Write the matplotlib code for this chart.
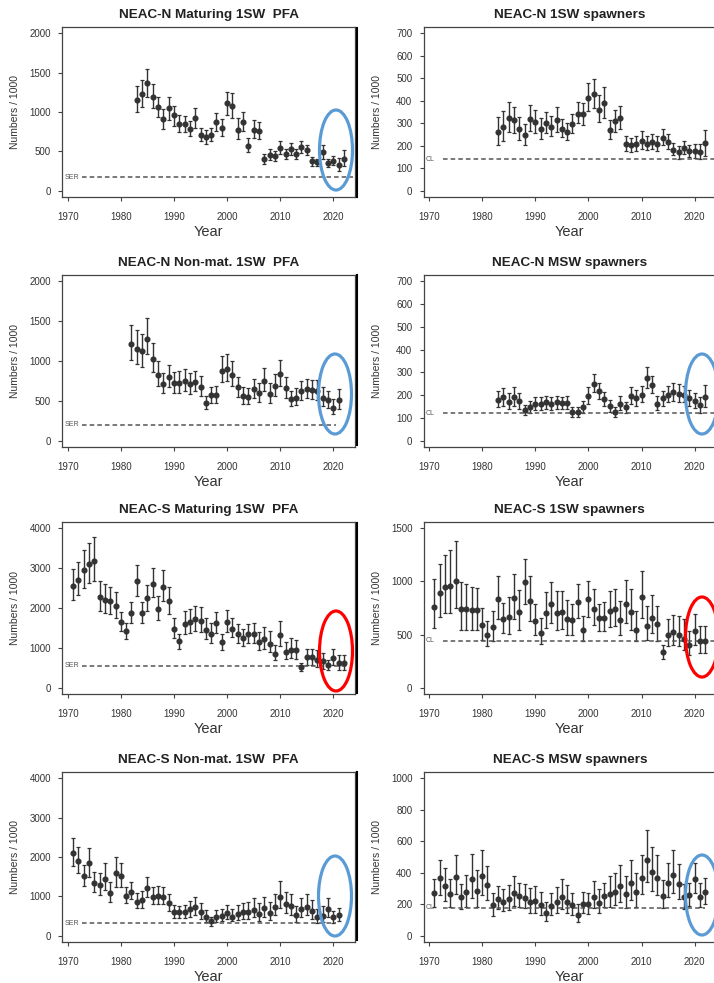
import matplotlib
matplotlib.use("Agg")
from matplotlib import pyplot as plt
from matplotlib.patches import Ellipse
from matplotlib.lines import Line2D
import matplotlib.transforms as mtrans
import numpy as np

plt.rcParams['font.family'] = ['Liberation Sans', 'DejaVu Sans']

# NEAC-N Maturing 1SW PFA
nm_years = np.arange(1983, 2023)
nm_val = [1154, 1226, 1366, 1188, 1061, 913, 1053, 960, 846, 846, 782, 922, 710, 681, 710, 871, 795, 1112, 1070, 774,
          871, 571, 774, 761, 402, 457, 435, 541, 465, 528, 465, 550, 520, 372, 359, 486, 351, 381, 321, 402]
nm_hi = [1332, 1408, 1543, 1353, 1196, 1040, 1196, 1070, 964, 955, 888, 1057, 803, 774, 803, 985, 913, 1260, 1239, 922,
         1006, 668, 892, 879, 469, 528, 499, 626, 533, 605, 533, 626, 583, 427, 402, 575, 402, 444, 414, 512]
nm_lo = [1006, 1061, 1188, 1049, 934, 782, 900, 824, 740, 740, 689, 803, 626, 596, 626, 761, 698, 964, 922, 655,
         753, 486, 668, 655, 342, 393, 372, 469, 402, 457, 402, 478, 448, 317, 309, 402, 300, 321, 254, 309]

# NEAC-N 1SW spawners
ns_years = np.arange(1983, 2023)
ns_val = [261, 284, 324, 314, 276, 246, 320, 305, 276, 302, 284, 314, 276, 261, 298, 343, 339, 413, 430, 361,
          388, 270, 309, 324, 206, 203, 206, 221, 209, 217, 209, 236, 218, 181, 172, 192, 177, 177, 172, 211]
ns_hi = [329, 354, 393, 371, 326, 295, 383, 358, 324, 349, 332, 373, 317, 302, 339, 393, 391, 479, 498, 427,
         461, 314, 361, 376, 243, 236, 243, 265, 243, 251, 243, 276, 251, 211, 199, 221, 203, 206, 206, 270]
ns_lo = [202, 221, 261, 258, 224, 202, 265, 258, 228, 258, 243, 261, 240, 225, 258, 299, 292, 354, 368, 305,
         324, 228, 261, 273, 177, 174, 177, 184, 181, 184, 177, 202, 187, 158, 143, 165, 152, 147, 140, 155]

# NEAC-N Non-mat. 1SW PFA
nn_years = np.arange(1982, 2022)
nn_val = [1209, 1154, 1125, 1281, 1027, 829, 710, 803, 719, 719, 753, 710, 740, 676, 478, 571, 575, 879, 901, 829,
          668, 562, 550, 647, 592, 753, 583, 689, 837, 655, 528, 541, 626, 647, 634, 626, 541, 512, 414, 507]
nn_hi = [1450, 1387, 1336, 1535, 1226, 998, 846, 956, 858, 871, 901, 850, 879, 808, 562, 676, 689, 1057, 1082, 1006,
         803, 676, 660, 774, 719, 913, 719, 837, 1015, 795, 626, 660, 753, 774, 765, 761, 668, 626, 520, 647]
nn_lo = [1015, 964, 930, 1091, 858, 689, 592, 668, 592, 592, 626, 583, 617, 562, 393, 478, 478, 731, 744, 689,
         550, 465, 457, 541, 490, 617, 478, 562, 689, 541, 435, 444, 507, 533, 520, 507, 435, 414, 330, 393]

# NEAC-N MSW spawners
nw_years = np.arange(1983, 2023)
nw_val = [180, 190, 171, 190, 172, 134, 146, 160, 160, 168, 160, 168, 165, 165, 126, 126, 149, 195, 250, 217,
          183, 152, 128, 163, 146, 196, 186, 202, 275, 245, 163, 186, 202, 212, 205, 201, 187, 175, 156, 190]
nw_hi = [220, 232, 208, 235, 208, 158, 172, 190, 190, 198, 190, 198, 193, 195, 149, 150, 175, 235, 291, 253,
         212, 180, 149, 195, 171, 235, 224, 242, 324, 284, 195, 220, 242, 253, 250, 242, 223, 210, 190, 245]
nw_lo = [146, 153, 138, 153, 138, 111, 123, 134, 135, 141, 134, 141, 137, 137, 106, 104, 123, 160, 212, 183,
         153, 126, 106, 134, 123, 163, 153, 168, 232, 208, 135, 153, 168, 175, 168, 168, 153, 143, 123, 146]

# NEAC-S Maturing 1SW PFA
sm_years = np.arange(1971, 2023)
sm_val = [2562, 2706, 2943, 3095, 3171, 2266, 2199, 2182, 2055, 1649, 1421, 1869, 2672, 1869, 2241, 2605, 1970, 2537,
          2165, 1463, 1167, 1607, 1649, 1717, 1674, 1446, 1336, 1615, 1142, 1649, 1480, 1336, 1235, 1336, 1336, 1150,
          1209, 1108, 846, 1319, 896, 956, 939, 516, 761, 761, 702, 660, 558, 744, 617, 617]
sm_hi = [2985, 3154, 3450, 3636, 3772, 2672, 2605, 2537, 2393, 1911, 1632, 2140, 3070, 2140, 2588, 3011, 2309, 2960,
         2537, 1742, 1353, 1928, 1970, 2055, 2013, 1742, 1632, 1911, 1336, 1945, 1759, 1590, 1463, 1607, 1615, 1404,
         1531, 1421, 1066, 1674, 1142, 1252, 1192, 617, 981, 981, 956, 871, 702, 981, 829, 829]
sm_lo = [2199, 2326, 2503, 2622, 2672, 1928, 1886, 1861, 1759, 1421, 1209, 1632, 2309, 1632, 1928, 2266, 1691, 2182,
         1861, 1235, 981, 1353, 1378, 1421, 1395, 1209, 1125, 1378, 956, 1404, 1269, 1125, 1040, 1125, 1125, 956,
         981, 896, 702, 1040, 727, 744, 727, 406, 575, 575, 516, 474, 431, 558, 431, 448]

# NEAC-S 1SW spawners
ss_years = np.arange(1971, 2023)
ss_val = [763, 887, 944, 953, 1007, 737, 737, 731, 728, 594, 499, 572, 839, 648, 667, 842, 715, 992, 817, 626,
          515, 706, 785, 706, 715, 642, 636, 810, 547, 833, 744, 658, 658, 721, 737, 636, 791, 712, 547, 855,
          585, 658, 601, 334, 499, 521, 499, 458, 397, 531, 435, 435]
ss_hi = [1023, 1166, 1246, 1293, 1382, 992, 976, 950, 934, 753, 626, 721, 1049, 801, 855, 1071, 918, 1214, 1055, 791,
         658, 896, 992, 912, 912, 823, 785, 976, 674, 1007, 928, 791, 810, 912, 928, 817, 1014, 928, 721, 1103,
         769, 874, 769, 404, 651, 683, 674, 642, 531, 696, 585, 578]
ss_lo = [563, 664, 706, 706, 747, 547, 547, 547, 547, 451, 388, 435, 642, 515, 505, 642, 547, 791, 626, 499,
         410, 563, 610, 547, 553, 499, 499, 658, 435, 664, 594, 537, 537, 569, 585, 499, 610, 547, 435, 658,
         451, 515, 435, 267, 388, 404, 388, 356, 308, 404, 324, 324]

# NEAC-S Non-mat. 1SW PFA
sn_years = np.arange(1971, 2022)
sn_val = [2105, 1895, 1516, 1836, 1330, 1288, 1440, 1078, 1600, 1524, 1011, 1120, 867, 909, 1221, 994, 1011, 994,
          825, 598, 598, 598, 674, 724, 615, 488, 362, 488, 505, 589, 488, 556, 598, 598, 657, 556, 699, 573,
          741, 994, 800, 758, 514, 674, 741, 640, 472, 505, 682, 463, 530]
sn_hi = [2493, 2257, 1794, 2240, 1625, 1600, 1836, 1373, 2004, 1853, 1246, 1373, 1078, 1137, 1499, 1246, 1263, 1246,
         1061, 783, 766, 783, 884, 977, 842, 657, 488, 657, 674, 783, 674, 783, 825, 867, 952, 825, 994, 867,
         1061, 1398, 1120, 1061, 758, 952, 1061, 909, 674, 766, 952, 632, 716]
sn_lo = [1768, 1583, 1272, 1499, 1120, 1036, 1162, 851, 1246, 1246, 825, 926, 699, 716, 994, 808, 808, 800,
         632, 446, 446, 446, 488, 531, 429, 337, 253, 345, 362, 429, 362, 404, 429, 429, 463, 379, 488, 404,
         531, 699, 573, 531, 345, 463, 514, 429, 320, 337, 488, 320, 362]

# NEAC-S MSW spawners
sw_years = np.arange(1971, 2023)
sw_val = [269, 364, 318, 263, 370, 244, 280, 358, 284, 381, 324, 192, 232, 213, 232, 274, 253, 242, 213, 221,
          196, 147, 189, 217, 244, 217, 192, 133, 200, 200, 248, 206, 253, 265, 280, 316, 265, 333, 276, 364,
          480, 402, 368, 255, 337, 385, 328, 248, 259, 358, 248, 276]
sw_hi = [358, 484, 432, 358, 512, 328, 385, 516, 417, 547, 442, 274, 316, 297, 322, 379, 337, 328, 301, 318,
         280, 217, 269, 307, 358, 322, 269, 200, 280, 274, 347, 297, 337, 379, 396, 448, 379, 480, 396, 512,
         669, 564, 512, 354, 459, 543, 455, 330, 337, 459, 333, 364]
sw_lo = [185, 259, 221, 185, 263, 168, 185, 238, 185, 259, 227, 128, 171, 154, 164, 189, 185, 175, 143, 147,
         133, 91, 133, 147, 168, 147, 133, 84, 143, 137, 175, 147, 185, 185, 196, 211, 179, 227, 185, 263,
         343, 286, 259, 179, 244, 274, 232, 170, 189, 274, 185, 200]

# title, years, values, lo, hi, y max, tick step, reference label, reference level, end of ref line
panels = [
    ("NEAC-N Maturing 1SW  PFA", nm_years, nm_val, nm_lo, nm_hi, 2000, 500, "SER", 170, 2023.7),
    ("NEAC-N 1SW spawners", ns_years, ns_val, ns_lo, ns_hi, 700, 100, "CL", 140, 2024.5),
    ("NEAC-N Non-mat. 1SW  PFA", nn_years, nn_val, nn_lo, nn_hi, 2000, 500, "SER", 200, 2020.5),
    ("NEAC-N MSW spawners", nw_years, nw_val, nw_lo, nw_hi, 700, 100, "CL", 120, 2024.5),
    ("NEAC-S Maturing 1SW  PFA", sm_years, sm_val, sm_lo, sm_hi, 4000, 1000, "SER", 550, 2023.0),
    ("NEAC-S 1SW spawners", ss_years, ss_val, ss_lo, ss_hi, 1500, 500, "CL", 442, 2024.5),
    ("NEAC-S Non-mat. 1SW  PFA", sn_years, sn_val, sn_lo, sn_hi, 4000, 1000, "SER", 320, 2020.5),
    ("NEAC-S MSW spawners", sw_years, sw_val, sw_lo, sw_hi, 1000, 200, "CL", 179, 2022.0),
]

W, H = 714, 983
fig = plt.figure(figsize=(W / 100, H / 100), dpi=100)

col_x = [(62.2, 354.8), (423.5, 716.1)]
row_y = [(27, 197), (275, 447), (522, 694), (772, 942)]
dark = "#333333"

for k, (title, yrs, v, lo, hi, ymax, step, rlab, rval, rend) in enumerate(panels):
    row, col = k // 2, k % 2
    x0, x1 = col_x[col]
    y0, y1 = row_y[row]
    ax = fig.add_axes([x0 / W, 1 - y1 / H, (x1 - x0) / W, (y1 - y0) / H])

    v, lo, hi = np.array(v), np.array(lo), np.array(hi)
    ax.errorbar(yrs, v, yerr=[v - lo, hi - v], fmt="o", ms=3.4, color=dark, ecolor=dark,
                elinewidth=1.0, capsize=1.4, capthick=0.9)

    # reference level (SER / CL)
    ax.plot([1972.6, rend], [rval, rval], ls=(0, (3.0, 2.0)), color="#555555", lw=1.1)
    ax.text(1969.4, rval, rlab, fontsize=5, color="#555555", ha="left", va="center")

    ax.set_xlim(1968.96, 2024.04)
    ax.set_ylim(-0.04 * ymax, 1.04 * ymax)
    ax.set_xticks(range(1970, 2021, 10))
    ax.set_yticks(np.arange(0, ymax + 1, step))
    ax.tick_params(direction="out", length=3, width=0.8, colors="#444444", labelsize=7,
                   labelcolor="#333333")
    ax.tick_params(axis="x", pad=8)
    ax.tick_params(axis="y", pad=5)
    for s in ax.spines.values():
        s.set_linewidth(0.9)
        s.set_color("#444444")

    tr_up = mtrans.offset_copy(ax.transAxes, fig=fig, y=12, units="dots")
    ax.text(0.5, 1.0, title, transform=tr_up, ha="center", va="center",
            fontsize=9.7, fontweight="bold", color="#222222")
    tr_dn = mtrans.offset_copy(ax.transAxes, fig=fig, y=-35, units="dots")
    ax.text(0.5, 0.0, "Year", transform=tr_dn, ha="center", va="center",
            fontsize=10.5, color="#333333")
    tr_lf = mtrans.offset_copy(ax.transAxes, fig=fig, x=-47, units="dots")
    ax.text(0.0, 0.5, "Numbers / 1000", transform=tr_lf, ha="center", va="center",
            rotation=90, fontsize=7.5, color="#333333")

# dark edge lines left of the right-hand panels
for y0, y1 in [(28, 197), (275, 445), (523, 693), (772, 940)]:
    fig.add_artist(Line2D([356.5 / W, 356.5 / W], [1 - y0 / H, 1 - y1 / H], color="black", lw=1.5))

# highlight ellipses (centre x, centre y, colour) in pixels
ellipses = [(336, 150, "#5B9BD5"), (335, 394, "#5B9BD5"), (336, 651, "#FF0000"), (335, 896, "#5B9BD5"),
            (702, 394, "#5B9BD5"), (702, 637, "#FF0000"), (702, 895, "#5B9BD5")]
for cx, cy, c in ellipses:
    fig.add_artist(Ellipse((cx / W, 1 - cy / H), 33 / W, 80 / H, transform=fig.transFigure,
                           fill=False, edgecolor=c, lw=2.3))

plt.savefig("out.png", dpi=100)
